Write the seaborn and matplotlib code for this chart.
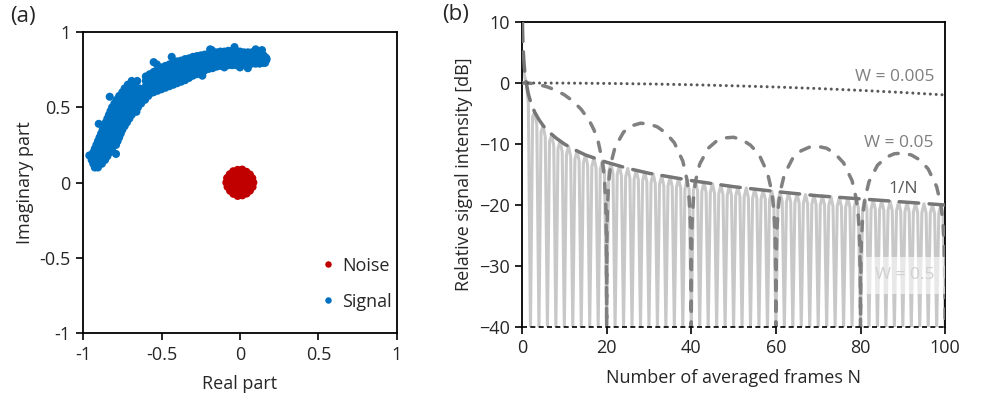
import numpy as np
import pandas as pd
import seaborn as sns
import matplotlib.pyplot as plt

# ==========================================
# DATA
# ==========================================
# (a) complex-plane scatter
noise_re = [0.00, 0.04, -0.04, 0.01, -0.01,
            0.03, 0.015, -0.015, -0.03, -0.015, 0.015,
            0.06, 0.052, 0.03, 0.00, -0.03, -0.052, -0.06, -0.052, -0.03, 0.00, 0.03, 0.052,
            0.085, 0.078, 0.063, 0.041, 0.014, -0.015, -0.043, -0.065, -0.082,
            -0.087, -0.079, -0.063, -0.042, -0.015, 0.015, 0.042, 0.063, 0.080]
noise_im = [0.00, 0.015, -0.015, -0.04, 0.04,
            0.00, 0.026, 0.026, 0.00, -0.026, -0.026,
            0.00, 0.03, 0.052, 0.06, 0.052, 0.03, 0.00, -0.03, -0.052, -0.06, -0.052, -0.03,
            0.000, 0.029, 0.053, 0.071, 0.086, 0.084, 0.075, 0.055, 0.030,
            0.000, -0.029, -0.055, -0.075, -0.089, -0.085, -0.073, -0.054, -0.029]

# signal arc, steep part: one row of real parts per imaginary level
sig_steep_im = [0.10, 0.125, 0.15, 0.175, 0.20, 0.225, 0.25, 0.275, 0.30, 0.325, 0.35,
                0.375, 0.40, 0.425, 0.45, 0.475, 0.50, 0.525, 0.55, 0.575, 0.60, 0.625,
                0.65, 0.675]
sig_steep_re = [[-0.925, -0.905],
                [-0.935, -0.905, -0.88],
                [-0.945, -0.915, -0.885, -0.86],
                [-0.94, -0.905, -0.87, -0.845],
                [-0.935, -0.90, -0.865, -0.83],
                [-0.925, -0.89, -0.85, -0.815],
                [-0.915, -0.88, -0.845, -0.81, -0.79],
                [-0.905, -0.87, -0.835, -0.80, -0.78],
                [-0.895, -0.86, -0.825, -0.79, -0.77],
                [-0.885, -0.85, -0.815, -0.78, -0.76],
                [-0.875, -0.84, -0.805, -0.775, -0.75],
                [-0.865, -0.83, -0.795, -0.76, -0.735],
                [-0.855, -0.82, -0.785, -0.75, -0.72],
                [-0.845, -0.81, -0.775, -0.74, -0.705],
                [-0.835, -0.80, -0.76, -0.725, -0.69],
                [-0.825, -0.79, -0.75, -0.71, -0.67],
                [-0.815, -0.775, -0.735, -0.69, -0.65],
                [-0.80, -0.76, -0.72, -0.675, -0.63],
                [-0.785, -0.745, -0.70, -0.655, -0.605],
                [-0.77, -0.725, -0.68, -0.63, -0.585],
                [-0.75, -0.705, -0.66, -0.61],
                [-0.735, -0.69, -0.64],
                [-0.715, -0.67],
                [-0.69, -0.655]]
# signal arc, flat part: one column of imaginary parts per real level
sig_flat_re = [-0.60, -0.575, -0.55, -0.525, -0.50, -0.475, -0.45, -0.425, -0.40, -0.375,
               -0.35, -0.325, -0.30, -0.275, -0.25, -0.225, -0.20, -0.175, -0.15, -0.125,
               -0.10, -0.075, -0.05, -0.025, 0.00, 0.025, 0.05, 0.075, 0.10, 0.125, 0.15, 0.165]
sig_flat_im = [[0.575, 0.605, 0.64, 0.675, 0.705],
               [0.59, 0.62, 0.655, 0.69, 0.72],
               [0.60, 0.635, 0.67, 0.705, 0.735],
               [0.61, 0.645, 0.68, 0.72, 0.75],
               [0.62, 0.66, 0.695, 0.735, 0.765],
               [0.63, 0.67, 0.705, 0.745, 0.775],
               [0.64, 0.68, 0.715, 0.755, 0.785],
               [0.65, 0.69, 0.725, 0.765, 0.795],
               [0.66, 0.70, 0.735, 0.775, 0.805],
               [0.67, 0.705, 0.745, 0.78, 0.81],
               [0.68, 0.715, 0.755, 0.79, 0.82],
               [0.695, 0.73, 0.765, 0.80, 0.825],
               [0.71, 0.745, 0.775, 0.81, 0.835],
               [0.72, 0.755, 0.785, 0.815, 0.84],
               [0.735, 0.765, 0.795, 0.825, 0.845],
               [0.745, 0.775, 0.805, 0.83, 0.85],
               [0.755, 0.785, 0.81, 0.835, 0.855],
               [0.76, 0.79, 0.815, 0.84, 0.86],
               [0.77, 0.80, 0.825, 0.85, 0.865],
               [0.775, 0.80, 0.83, 0.855, 0.87],
               [0.78, 0.805, 0.835, 0.86, 0.87],
               [0.78, 0.81, 0.84, 0.865, 0.875],
               [0.78, 0.81, 0.845, 0.875],
               [0.78, 0.81, 0.845, 0.875],
               [0.78, 0.81, 0.845, 0.87],
               [0.785, 0.815, 0.845, 0.865],
               [0.785, 0.815, 0.845, 0.865],
               [0.79, 0.815, 0.845, 0.865],
               [0.79, 0.82, 0.85, 0.87],
               [0.79, 0.82, 0.85, 0.86],
               [0.795, 0.82, 0.845],
               [0.81, 0.83]]
# stray signal points along the edges of the arc
sig_stray_re = [-0.96, -0.90, -0.24, 0.05, -0.55, -0.035, 0.17, -0.83, -0.435, -0.18, 0.14,
                -0.79, -0.66, -0.45, -0.53, -0.19, 0.10, -0.35, 0.00, -0.10, 0.16]
sig_stray_im = [0.18, 0.39, 0.71, 0.76, 0.80, 0.90, 0.82, 0.57, 0.835, 0.88, 0.88,
                0.19, 0.47, 0.655, 0.785, 0.885, 0.885, 0.69, 0.765, 0.765, 0.795]

ab_ticks = [-1, -0.5, 0, 0.5, 1]
ab_ticklabels = ['-1', '-0.5', '0', '0.5', '1']

# (b) relative signal intensity vs. number of averaged frames
# W = 0.5 (sampled every half frame, N = 0 ... 100)
db_w0p5 = [2.0, 1.5, 0.0, -3.3,
           -40, -5.5, -4.8, -6.9, -40, -8.0, -7.0, -8.9, -40, -9.6, -8.5, -10.3,
           -40, -10.8, -9.5, -11.3, -40, -11.7, -10.4, -12.1, -40, -12.5, -11.1, -12.8,
           -40, -13.1, -11.8, -13.4, -40, -13.7, -12.3, -13.9, -40, -14.2, -12.8, -14.4,
           -40, -14.6, -13.2, -14.8, -40, -15.0, -13.6, -15.2, -40, -15.4, -14.0, -15.6,
           -40, -15.7, -14.3, -15.9, -40, -16.0, -14.6, -16.2, -40, -16.3, -14.9, -16.5,
           -40, -16.6, -15.2, -16.8, -40, -16.9, -15.4, -17.0, -40, -17.1, -15.7, -17.2,
           -40, -17.4, -15.9, -17.5, -40, -17.6, -16.1, -17.7, -40, -17.8, -16.3, -17.9,
           -40, -18.0, -16.5, -18.1, -40, -18.2, -16.7, -18.3, -40, -18.4, -16.9, -18.4,
           -40, -18.5, -17.1, -18.6, -40, -18.7, -17.2, -18.8, -40, -18.9, -17.4, -18.9,
           -40, -19.0, -17.6, -19.1, -40, -19.2, -17.7, -19.2, -40, -19.3, -17.9, -19.4,
           -40, -19.5, -18.0, -19.5, -40, -19.6, -18.1, -19.7, -40, -19.7, -18.3, -19.8,
           -40, -19.9, -18.4, -19.9, -40, -20.0, -18.5, -20.0, -40, -20.1, -18.6, -20.2,
           -40, -20.2, -18.8, -20.3, -40, -20.3, -18.9, -20.4, -40, -20.4, -19.0, -20.5,
           -40, -20.6, -19.1, -20.6, -40, -20.7, -19.2, -20.7, -40, -20.8, -19.3, -20.8,
           -40, -20.9, -19.4, -20.9, -40, -21.0, -19.5, -21.0, -40, -21.1, -19.6, -21.1,
           -40, -21.2, -19.7, -21.2, -40, -21.3, -19.8, -21.3, -40, -21.3, -19.9, -21.4,
           -40, -21.4, -20.0, -21.5, -40]
n_w0p5 = np.arange(0, 100.5, 0.5)

# W = 0.05
n_w0p05 = [0, 1, 2, 4, 6, 8, 10, 12, 14, 16, 17, 18, 19, 19.5, 19.8, 19.95, 20,
           20.05, 20.2, 20.5, 21, 22, 24, 26, 28, 30, 32, 34, 36, 38, 39, 39.5, 39.8, 39.95, 40,
           40.05, 40.2, 40.5, 41, 42, 44, 46, 48, 50, 52, 54, 56, 58, 59, 59.5, 59.8, 59.95, 60,
           60.05, 60.2, 60.5, 61, 62, 64, 66, 68, 70, 72, 74, 76, 78, 79, 79.5, 79.8, 79.95, 80,
           80.05, 80.2, 80.5, 81, 82, 84, 86, 88, 90, 92, 94, 96, 98, 99, 99.5, 99.8, 99.95, 100]
db_w0p05 = [0, -0.01, -0.05, -0.27, -0.65, -1.19, -1.94, -2.95, -4.33, -6.29, -7.68, -9.6,
            -12.8, -15.9, -19.9, -26.0, -40,
            -26.0, -20.0, -16.1, -13.2, -10.5, -8.05, -7.0, -6.6, -6.7, -7.2, -8.2, -9.8,
            -12.8, -15.9, -19.0, -23.0, -29.0, -40,
            -29.0, -23.0, -19.1, -16.1, -13.3, -10.7, -9.5, -9.0, -8.9, -9.3, -10.2, -11.7,
            -14.7, -17.7, -20.7, -24.7, -30.8, -40,
            -30.8, -24.8, -20.8, -17.9, -15.0, -12.3, -11.1, -10.5, -10.4, -10.7, -11.6, -13.1,
            -16.0, -19.0, -22.0, -26.0, -32.0, -40,
            -32.0, -26.0, -22.1, -19.1, -16.2, -13.5, -12.2, -11.6, -11.5, -11.8, -12.6, -14.1,
            -17.0, -20.0, -23.0, -27.0, -33.0, -40]

# 1/N
n_inv = [0.1, 0.15, 0.2, 0.3, 0.5, 0.7, 1, 1.5, 2, 3, 4, 5, 6, 8, 10, 12, 15, 20, 25, 30,
         40, 50, 60, 70, 80, 90, 100]
db_inv = [10, 8.2, 7.0, 5.2, 3.0, 1.5, 0, -1.8, -3.0, -4.8, -6.0, -7.0, -7.8, -9.0, -10.0,
          -10.8, -11.8, -13.0, -14.0, -14.8, -16.0, -17.0, -17.8, -18.5, -19.0, -19.5, -20.0]

# W = 0.005
n_w0p005 = [0, 10, 20, 30, 40, 50, 60, 70, 80, 90, 100]
db_w0p005 = [0, -0.02, -0.07, -0.16, -0.29, -0.46, -0.66, -0.91, -1.21, -1.56, -1.96]

# floor
n_floor = [0, 100]
db_floor = [-40, -40]

# ==========================================
# BUILD TABLE FOR (a)
# ==========================================
signal_re, signal_im = [], []
for im, row in zip(sig_steep_im, sig_steep_re):
    signal_re += row
    signal_im += [im] * len(row)
for re, col in zip(sig_flat_re, sig_flat_im):
    signal_re += [re] * len(col)
    signal_im += col
signal_re += sig_stray_re
signal_im += sig_stray_im

df_a = pd.DataFrame({
    're': noise_re + signal_re,
    'im': noise_im + signal_im,
    'kind': ['Noise'] * len(noise_re) + ['Signal'] * len(signal_re),
})

# ==========================================
# STYLE
# ==========================================
sns.set_style('ticks')
plt.rcParams['font.family'] = ['Open Sans', 'DejaVu Sans']
plt.rcParams['axes.linewidth'] = 1.3
TXT = '#262626'

fig = plt.figure(figsize=(9.84, 4.04), dpi=100)
ax1 = fig.add_axes([0.0844, 0.1757, 0.319, 0.745])
ax2 = fig.add_axes([0.5305, 0.1906, 0.430, 0.755])

# ---------- (a) ----------
sns.scatterplot(data=df_a, x='re', y='im', hue='kind', hue_order=['Noise', 'Signal'],
                palette={'Noise': '#c00000', 'Signal': '#0070c0'},
                s=34, linewidth=0, ax=ax1)
ax1.set_xlim(-1, 1)
ax1.set_ylim(-1, 1)
ax1.set_xticks(ab_ticks)
ax1.set_xticklabels(ab_ticklabels)
ax1.set_yticks(ab_ticks)
ax1.set_yticklabels(ab_ticklabels)
ax1.set_xlabel('Real part', fontsize=13, color=TXT, labelpad=8)
ax1.set_ylabel('Imaginary part', fontsize=13, color=TXT, labelpad=4)
leg = ax1.legend(loc='lower left', bbox_to_anchor=(0.70, 0.02), frameon=False,
                 fontsize=13, labelspacing=1.0, handlelength=1.0,
                 handletextpad=0.3, markerscale=0.8)
for t in leg.get_texts():
    t.set_color(TXT)

# ---------- (b) ----------
sns.lineplot(x=n_w0p5, y=db_w0p5, ax=ax2, color='#c8c8c8', lw=2.2,
             estimator=None, sort=False, zorder=2)
sns.lineplot(x=n_w0p05, y=db_w0p05, ax=ax2, color='#808080', lw=2.5,
             linestyle=(0, (2.7, 3.3)), dash_capstyle='round',
             estimator=None, sort=False, zorder=3)
sns.lineplot(x=n_inv, y=db_inv, ax=ax2, color='#767676', lw=2.5,
             linestyle=(0, (5.6, 3.0)), dash_capstyle='round',
             estimator=None, sort=False, zorder=4)
sns.lineplot(x=n_w0p005, y=db_w0p005, ax=ax2, color='#595959', lw=2.2,
             linestyle=(0, (0.01, 1.9)), dash_capstyle='round',
             estimator=None, sort=False, zorder=5)
sns.lineplot(x=n_floor, y=db_floor, ax=ax2, color='black', lw=1.2,
             linestyle=(0, (3, 2)), estimator=None, sort=False, zorder=6, clip_on=False)

ax2.set_xlim(0, 100)
ax2.set_ylim(-40, 10)
ax2.set_xticks([0, 20, 40, 60, 80, 100])
ax2.set_yticks([-40, -30, -20, -10, 0, 10])
ax2.set_xlabel('Number of averaged frames N', fontsize=13, color=TXT, labelpad=8)
ax2.set_ylabel('Relative signal intensity [dB]', fontsize=13, color=TXT, labelpad=4)

ax2.text(88, 1.0, 'W = 0.005', ha='center', va='center', fontsize=12.5, color='#7f7f7f', zorder=7)
ax2.text(89, -9.8, 'W = 0.05', ha='center', va='center', fontsize=12.5, color='#7f7f7f', zorder=7)
ax2.text(90, -17.4, '1/N', ha='center', va='center', fontsize=12.5, color='#595959', zorder=7)
ax2.text(90.5, -31.5, 'W = 0.5', ha='center', va='center', fontsize=12.5, color='#d0d0d0',
         zorder=7, bbox=dict(boxstyle='square,pad=0.6', fc='white', ec='none', alpha=0.6))

for ax in (ax1, ax2):
    ax.tick_params(direction='out', length=5, width=1.2, color='black', pad=4,
                   labelsize=13, labelcolor=TXT)
    for sp in ax.spines.values():
        sp.set_visible(True)
        sp.set_color('black')
ax2.spines['bottom'].set_visible(False)

fig.text(10 / 984, 1 - 6 / 404, '(a)', ha='left', va='top', fontsize=16, color=TXT)
fig.text(442 / 984, 1 - 4 / 404, '(b)', ha='left', va='top', fontsize=16, color=TXT)

fig.savefig('out.png', dpi=100)
